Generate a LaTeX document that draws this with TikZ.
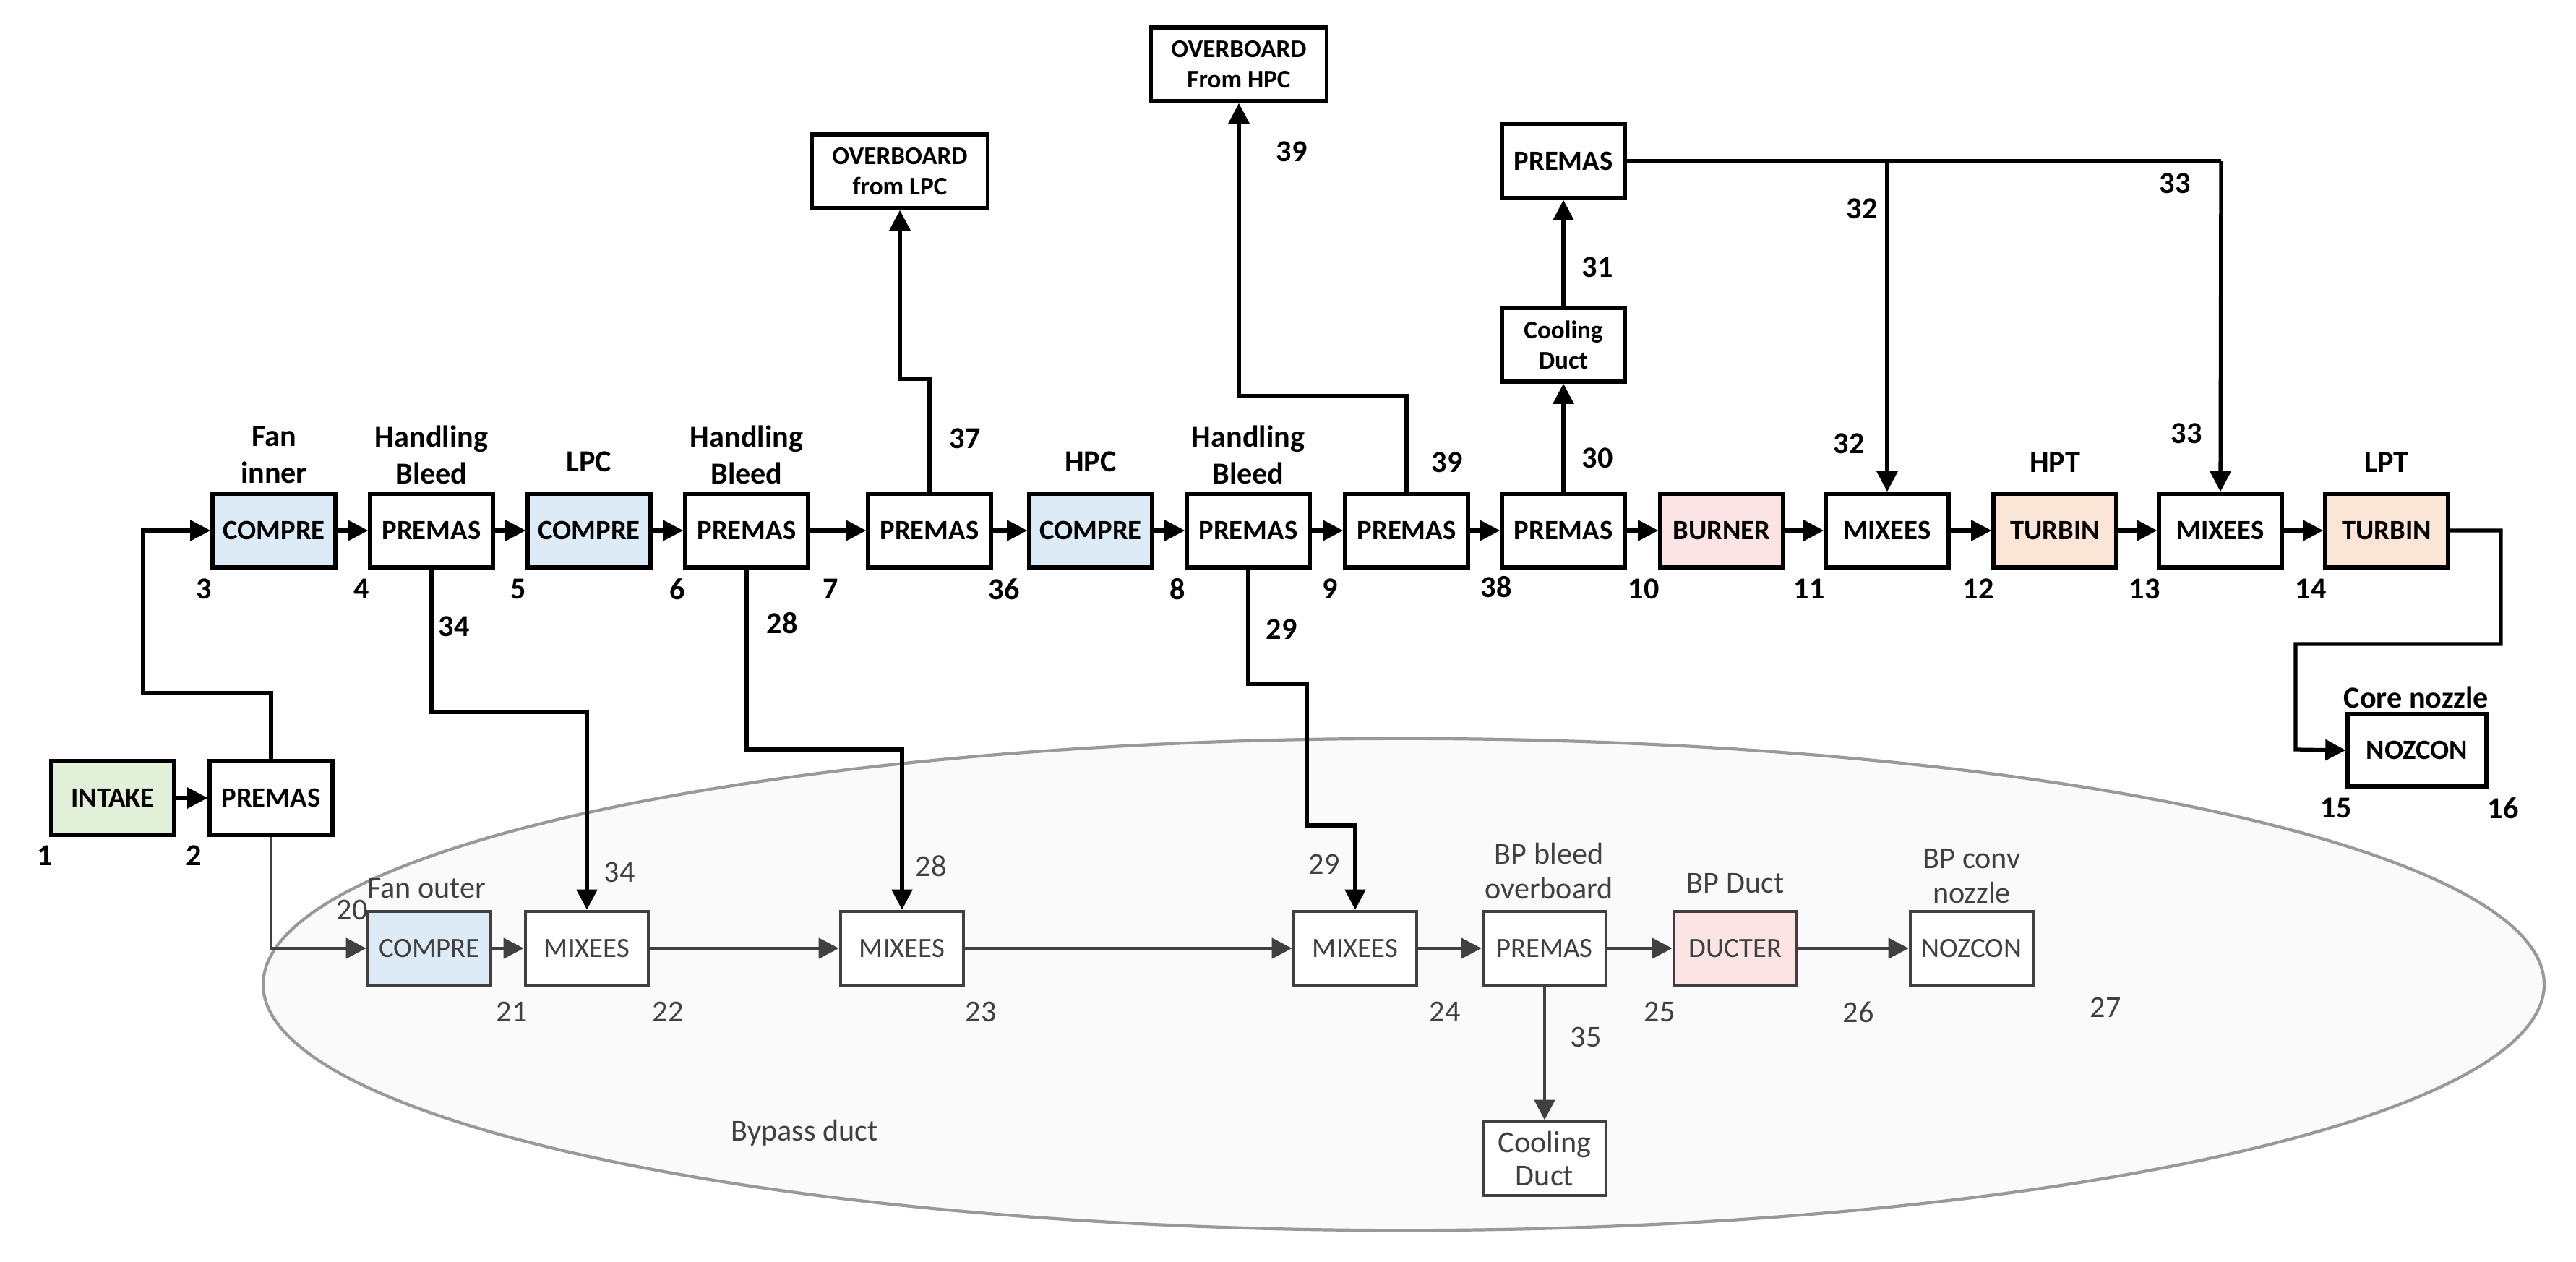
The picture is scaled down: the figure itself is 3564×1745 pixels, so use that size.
\documentclass[tikz,border=0pt]{standalone}
\usepackage{fontspec}
\setmainfont{Carlito}
\usetikzlibrary{arrows.meta,shapes.geometric}
\definecolor{cblue}{HTML}{DDEBF7}
\definecolor{cgreen}{HTML}{E2F0D9}
\definecolor{cpink}{HTML}{FCE4E4}
\definecolor{corange}{HTML}{FBE5D6}
\definecolor{dgray}{HTML}{404040}
\begin{document}
\begin{tikzpicture}[x=0.01cm,y=-0.01cm,
  box/.style={draw,line width=1.5pt,minimum width=1.7cm,minimum height=1.02cm,font=\bfseries\fontsize{11}{12}\selectfont,inner sep=1pt,align=center},
  bbox/.style={draw=dgray,line width=1.3pt,minimum width=1.7cm,minimum height=1.02cm,font=\fontsize{11}{12}\selectfont,text=dgray,inner sep=1pt,align=center,fill=white},
  lab/.style={font=\bfseries\fontsize{12}{14.5}\selectfont,align=center},
  blab/.style={font=\fontsize{12}{13.5}\selectfont,align=center,text=dgray},
  con/.style={line width=1.5pt,-{Triangle[length=8pt,width=8pt]}},
  bcon/.style={line width=1.3pt,draw=dgray,-{Triangle[length=8pt,width=8pt]}},
  ln/.style={line width=1.5pt}]
\useasboundingbox (0,0) rectangle (3564,1745);
\fill[white] (0,0) rectangle (3564,1745);
% bypass ellipse
\node[draw=gray!80,line width=1.2pt,fill=black!2,ellipse,minimum width=31.54cm,minimum height=6.8cm,inner sep=0pt] (bp) at (1942,1362) {};
% top row
\node[box,fill=cgreen] (intake) at (156,1104) {INTAKE};
\node[box] (p2) at (375,1104) {PREMAS};
\node[box,fill=cblue] (c3) at (379,734) {COMPRE};
\node[box] (p4) at (597,734) {PREMAS};
\node[box,fill=cblue] (c5) at (815,734) {COMPRE};
\node[box] (p6) at (1033,734) {PREMAS};
\node[box] (p7) at (1286,734) {PREMAS};
\node[box,fill=cblue] (c36) at (1509,734) {COMPRE};
\node[box] (p8) at (1727,734) {PREMAS};
\node[box] (p9) at (1946,734) {PREMAS};
\node[box] (p38) at (2163,734) {PREMAS};
\node[box,fill=cpink] (burn) at (2382,734) {BURNER};
\node[box] (m11) at (2611,734) {MIXEES};
\node[box,fill=corange] (t12) at (2843,734) {TURBIN};
\node[box] (m13) at (3072,734) {MIXEES};
\node[box,fill=corange] (t14) at (3302,734) {TURBIN};
\node[box,minimum width=1.92cm,minimum height=1.0cm] (noz) at (3344,1038) {NOZCON};
\node[box,minimum width=2.43cm,minimum height=1.02cm,font=\bfseries\fontsize{10}{12}\selectfont] (ovl) at (1245,237) {OVERBOARD\\from LPC};
\node[box,minimum width=2.43cm,minimum height=1.02cm,font=\bfseries\fontsize{10}{12}\selectfont] (ovh) at (1714,89) {OVERBOARD\\From HPC};
\node[box,font=\bfseries\fontsize{10}{12}\selectfont] (cd1) at (2163,477) {Cooling\\Duct};
\node[box] (p31) at (2163,223) {PREMAS};
% bottom row
\node[bbox,fill=cblue] (c20) at (594,1312) {COMPRE};
\node[bbox] (m21) at (812,1312) {MIXEES};
\node[bbox] (m22) at (1248,1312) {MIXEES};
\node[bbox] (m23) at (1875,1312) {MIXEES};
\node[bbox] (p24) at (2137,1312) {PREMAS};
\node[bbox,fill=cpink] (d25) at (2401,1312) {DUCTER};
\node[bbox] (n26) at (2728,1312) {NOZCON};
\node[bbox,font=\fontsize{12}{13}\selectfont] (cd2) at (2137,1603) {Cooling\\Duct};
% top connectors
\draw[con] (intake) -- (p2);
\draw[con] (p2.north) |- (198,959) |- (c3.west);
\draw[con] (c3) -- (p4);
\draw[con] (p4) -- (c5);
\draw[con] (c5) -- (p6);
\draw[con] (p6) -- (p7);
\draw[con] (p7) -- (c36);
\draw[con] (c36) -- (p8);
\draw[con] (p8) -- (p9);
\draw[con] (p9) -- (p38);
\draw[con] (p38) -- (burn);
\draw[con] (burn) -- (m11);
\draw[con] (m11) -- (t12);
\draw[con] (t12) -- (m13);
\draw[con] (m13) -- (t14);
\draw[con] (t14.east) -| (3460,891) -| (3176,1037) -- (noz.west);
\draw[con] (p7.north) |- (1245,524) -- (ovl.south);
\draw[con] (p9.north) |- (1714,548) -- (ovh.south);
\draw[con] (p38) -- (cd1);
\draw[con] (cd1) -- (p31);
\draw[ln] (p31.east) -- (3073,223);
\draw[con] (3073,223) -- (m13.north);
\draw[con] (2611,223) -- (m11.north);
% bleeds to bypass
\draw[con] (p4.south) |- (812,985) -- (m21.north);
\draw[con] (p6.south) |- (1248,1037) -- (m22.north);
\draw[con] (p8.south) |- (1808,946) |- (1875,1142) -- (m23.north);
% bottom connectors
\draw[bcon] (p2.south) |- (c20.west);
\draw[bcon] (c20) -- (m21);
\draw[bcon] (m21) -- (m22);
\draw[bcon] (m22) -- (m23);
\draw[bcon] (m23) -- (p24);
\draw[bcon] (p24) -- (d25);
\draw[bcon] (d25) -- (n26);
\draw[bcon] (p24) -- (cd2);
% top labels
\node[lab] at (379,629) {Fan\\inner};
\node[lab] at (597,629) {Handling\\Bleed};
\node[lab] at (815,639) {LPC};
\node[lab] at (1033,629) {Handling\\Bleed};
\node[lab] at (1509,639) {HPC};
\node[lab] at (1727,629) {Handling\\Bleed};
\node[lab] at (2843,640) {HPT};
\node[lab] at (3302,640) {LPT};
\node[lab] at (3343,965) {Core nozzle};
\foreach \t/\x/\y in {1/62/1184,2/268/1184,3/282/815,4/500/815,5/717/815,6/937/815,7/1149/815,36/1389/815,8/1629/815,9/1840/815,38/2070/812,10/2274/815,11/2503/815,12/2737/815,13/2967/815,14/3197/815,15/3232/1118,16/3463/1118,34/628/867,28/1082/862,29/1773/871,37/1335/607,39/1787/210,39/2002/640,30/2210/634,31/2210/370,32/2576/289,33/3009/254,32/2558/614,33/3025/600}
  \node[lab] at (\x,\y) {\t};
% bottom labels
\foreach \t/\x/\y in {34/857/1207,28/1288/1198,29/1832/1196,20/487/1259,21/708/1400,22/924/1400,23/1357/1400,24/1999/1400,25/2296/1400,26/2571/1400,27/2913/1394,35/2194/1435}
  \node[blab] at (\x,\y) {\t};
\node[blab] at (590,1229) {Fan outer};
\node[blab] at (2143,1205) {BP bleed\\overboard};
\node[blab] at (2401,1222) {BP Duct};
\node[blab] at (2728,1212) {BP conv\\nozzle};
\node[blab] at (1113,1567) {Bypass duct};
\end{tikzpicture}
\end{document}
